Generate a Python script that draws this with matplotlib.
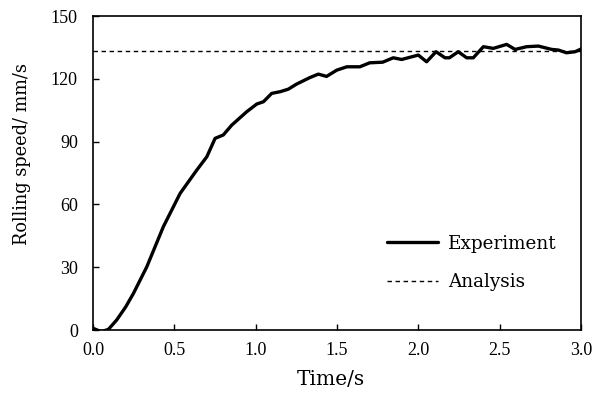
import matplotlib
matplotlib.use("Agg")
import matplotlib.pyplot as plt
import numpy as np

plt.rcParams['font.family'] = ['DejaVu Serif']

time_s = [0.0, 0.05, 0.094, 0.145, 0.2, 0.248, 0.33, 0.432, 0.535, 0.637, 0.699, 0.75, 0.80,
          0.852, 0.944, 1.006, 1.047, 1.098, 1.15, 1.2, 1.25, 1.334, 1.385, 1.435, 1.498,
          1.56, 1.64, 1.70, 1.78, 1.845, 1.897, 1.999, 2.05, 2.108, 2.163, 2.19, 2.245,
          2.296, 2.337, 2.399, 2.46, 2.542, 2.594, 2.665, 2.737, 2.819, 2.86, 2.91, 2.963, 3.0]
experiment = [0.8, -0.8, 0.3, 4.8, 11.0, 17.5, 30.2, 49.4, 65.3, 76.4, 82.8, 91.6, 93.2,
              97.9, 104.3, 108.0, 109.1, 113.1, 113.9, 115.1, 117.5, 120.7, 122.3, 121.2, 124.2,
              125.8, 125.8, 127.7, 128.0, 130.1, 129.3, 131.4, 128.2, 133.0, 130.1, 130.1, 133.0,
              130.1, 130.1, 135.4, 134.6, 136.5, 134.1, 135.4, 135.7, 134.1, 133.8, 132.5, 133.0, 134.3]
analysis_value = 133.4
analysis_t = [0.0, 3.0]
x_ticks = [0.0, 0.5, 1.0, 1.5, 2.0, 2.5, 3.0]
y_ticks = [0, 30, 60, 90, 120, 150]

fig = plt.figure(figsize=(5.93, 3.94), dpi=100)
ax = fig.add_axes([0.157, 0.1624, 0.823, 0.7966])

ax.plot(time_s, experiment, color='black', lw=2.4, label='Experiment',
        solid_joinstyle='round', solid_capstyle='round')
ax.plot(analysis_t, [analysis_value, analysis_value], color='black', lw=1.0,
        ls=(0, (3.2, 2.6)), label='Analysis')

ax.set_xlim(0, 3.0)
ax.set_ylim(0, 150)
ax.set_xticks(x_ticks)
ax.set_xticklabels([f"{v:.1f}" for v in x_ticks], family='Liberation Serif', fontsize=13)
ax.set_yticks(y_ticks)
ax.set_yticklabels([str(v) for v in y_ticks], family='Liberation Serif', fontsize=13)
ax.tick_params(direction='in', length=4.5, width=1)
ax.tick_params(axis='x', pad=8.5)
ax.tick_params(axis='y', pad=11)
for s in ax.spines.values():
    s.set_linewidth(1.2)

ax.set_xlabel('Time/s', fontsize=14.5)
ax.xaxis.set_label_coords(0.488, -0.127)
ax.set_ylabel('Rolling speed/ mm/s', fontsize=12.8)
ax.yaxis.set_label_coords(-0.127, 0.562)

ax.legend(loc='upper left', bbox_to_anchor=(0.6025, 0.303), frameon=False, fontsize=13.2,
          handlelength=2.75, handletextpad=0.55, labelspacing=1.1,
          borderaxespad=0, borderpad=0)

fig.savefig('out.png', dpi=100)
